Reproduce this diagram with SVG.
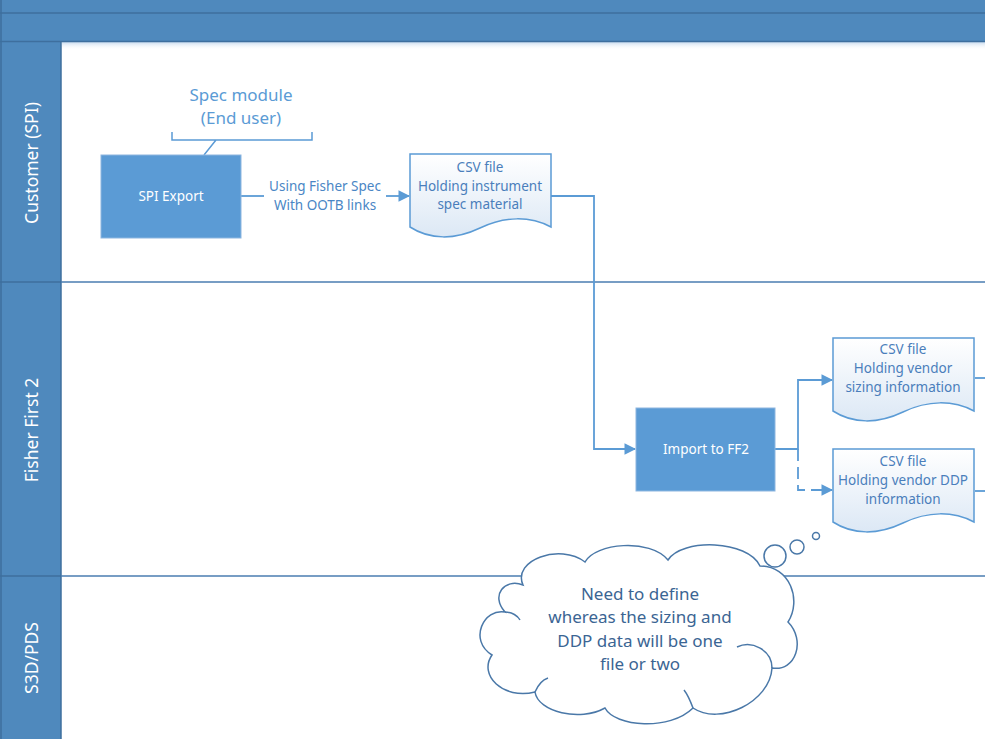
<svg xmlns="http://www.w3.org/2000/svg" width="985" height="739" viewBox="0 0 985 739">
<defs>
<style>
.lane{fill:#4F89BD}
.laneline{stroke:#3E6F9E;stroke-width:1.5;fill:none}
.divider{stroke:#4A7DB0;stroke-width:1.5;fill:none}
.lanetxt{font-family:"Noto Sans","Open Sans",sans-serif;font-size:17.5px;fill:#FFFFFF;text-anchor:middle}
.proc{fill:#5B9BD5;stroke:#8DB6E0;stroke-width:1}
.proctxt{font-family:"Noto Sans","Open Sans",sans-serif;font-size:13.5px;fill:#FFFFFF;text-anchor:middle}
.doc{fill:url(#docg);stroke:#5B9BD5;stroke-width:1.5}
.doctxt{font-family:"Noto Sans","Open Sans",sans-serif;font-size:13.5px;fill:#4A7EBB;text-anchor:middle}
.conn{stroke:#5B9BD5;stroke-width:1.8;fill:none}
.lbl{font-family:"Noto Sans","Open Sans",sans-serif;font-size:13.5px;fill:#4A86C5;text-anchor:middle}
.note{font-family:"Noto Sans","Open Sans",sans-serif;font-size:17px;fill:#5B9BD5;text-anchor:middle}
.cloud{fill:#FFFFFF;stroke:#4A78A8;stroke-width:1.5}
.cloudtxt{font-family:"Noto Sans","Open Sans",sans-serif;font-size:17px;fill:#3B6593;text-anchor:middle}
</style>
<linearGradient id="docg" x1="0" y1="0" x2="0" y2="1">
<stop offset="0" stop-color="#FFFFFF"/>
<stop offset="1" stop-color="#DCE8F5"/>
</linearGradient>
<linearGradient id="shade" x1="0" y1="0" x2="0" y2="1">
<stop offset="0" stop-color="#C9DBEE"/>
<stop offset="1" stop-color="#FFFFFF" stop-opacity="0"/>
</linearGradient>
<marker id="arr" viewBox="0 0 10 10" refX="9" refY="5" markerWidth="6.5" markerHeight="6.5" orient="auto" markerUnits="strokeWidth">
<path d="M0,0 L10,5 L0,10 Z" fill="#5B9BD5"/>
</marker>
<path id="docshape" d="M0,0 H141 V73 C120,62 95,62 70,74 C45,86 20,86 0,73 Z"/>
</defs>

<rect width="985" height="739" fill="#FFFFFF"/>

<g id="pool">
<rect x="0" y="0" width="985" height="42" class="lane"/>
<rect x="0" y="42" width="61" height="697" class="lane"/>
<rect x="62" y="42" width="923" height="8" fill="url(#shade)"/>
<line x1="0" y1="13" x2="985" y2="13" class="laneline"/>
<line x1="0" y1="41.5" x2="985" y2="41.5" class="laneline"/>
<line x1="1" y1="0" x2="1" y2="739" class="laneline"/>
<line x1="61" y1="42" x2="61" y2="739" class="laneline"/>
<line x1="0" y1="282" x2="61" y2="282" class="laneline"/>
<line x1="0" y1="576" x2="61" y2="576" class="laneline"/>
<line x1="61" y1="282" x2="985" y2="282" class="divider"/>
<line x1="61" y1="576" x2="985" y2="576" class="divider"/>
</g>

<g id="lane-customer">
<text class="lanetxt" transform="translate(38,163) rotate(-90)">Customer (SPI)</text>
</g>
<g id="lane-ff2">
<text class="lanetxt" transform="translate(38,430) rotate(-90)">Fisher First 2</text>
</g>
<g id="lane-s3d">
<text class="lanetxt" transform="translate(38,658) rotate(-90)">S3D/PDS</text>
</g>

<g id="connectors">
<line x1="241" y1="196" x2="264" y2="196" class="conn"/>
<line x1="386" y1="196" x2="409" y2="196" class="conn" marker-end="url(#arr)"/>
<text class="lbl" x="325" y="191">Using Fisher Spec</text>
<text class="lbl" x="325" y="210">With OOTB links</text>
<path d="M551,196 H594 V449 H635" class="conn" marker-end="url(#arr)"/>
<path d="M775,449 H798 V380 H832" class="conn" marker-end="url(#arr)"/>
<path d="M798,449 V490 H832" class="conn" stroke-dasharray="12,6" marker-end="url(#arr)"/>
<line x1="975" y1="378" x2="985" y2="378" class="conn"/>
<line x1="975" y1="491" x2="985" y2="491" class="conn"/>
<path d="M172,132 V140 H312 V132 M216,140 L204,155" fill="none" stroke="#5B9BD5" stroke-width="1.5"/>
</g>

<g id="spec-module">
<text class="note" x="241" y="101">Spec module</text>
<text class="note" x="241" y="124">(End user)</text>
</g>

<g id="spi-export">
<rect x="101" y="155" width="140" height="83" class="proc"/>
<text class="proctxt" x="171" y="201">SPI Export</text>
</g>

<g id="csv-instrument">
<use href="#docshape" x="410" y="154" class="doc"/>
<text class="doctxt" x="480" y="172">CSV file</text>
<text class="doctxt" x="480" y="191">Holding instrument</text>
<text class="doctxt" x="480" y="209">spec material</text>
</g>

<g id="import-ff2">
<rect x="636" y="408" width="139" height="83" class="proc"/>
<text class="proctxt" x="706" y="454">Import to FF2</text>
</g>

<g id="csv-sizing">
<use href="#docshape" x="833" y="338" class="doc"/>
<text class="doctxt" x="903" y="354">CSV file</text>
<text class="doctxt" x="903" y="373">Holding vendor</text>
<text class="doctxt" x="903" y="392">sizing information</text>
</g>

<g id="csv-ddp">
<use href="#docshape" x="833" y="449" class="doc"/>
<text class="doctxt" x="903" y="466">CSV file</text>
<text class="doctxt" x="903" y="485">Holding vendor DDP</text>
<text class="doctxt" x="903" y="504">information</text>
</g>

<g id="cloud-note">
<path class="cloud" d="M523,585 C512,560 560,543 585,562 C595,543 650,538 668,560 C682,538 748,540 760,566 C790,566 802,600 788,622 C806,640 796,672 772,668 C770,702 720,726 693,708 C670,731 615,727 605,708 C580,722 538,712 535,692 C503,700 478,675 492,655 C468,640 484,608 505,612 C490,595 505,578 523,585 Z"/>
<path d="M737,647 C752,640 772,650 772,668 M505,612 C512,612 518,616 520,620 M535,692 C538,685 542,680 548,678 M693,708 C690,700 688,695 684,690" fill="none" stroke="#4A78A8" stroke-width="1.5"/>
<circle cx="775" cy="556" r="11" class="cloud"/>
<circle cx="797" cy="547" r="7" class="cloud"/>
<circle cx="816" cy="536" r="3.5" class="cloud"/>
<text class="cloudtxt" x="640" y="600">Need to define</text>
<text class="cloudtxt" x="640" y="623">whereas the sizing and</text>
<text class="cloudtxt" x="640" y="647">DDP data will be one</text>
<text class="cloudtxt" x="640" y="670">file or two</text>
</g>
</svg>
